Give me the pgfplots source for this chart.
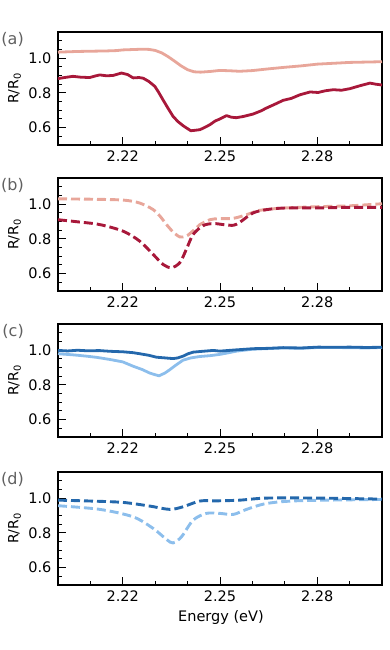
\documentclass[border=0pt]{standalone}
\usepackage{fontspec}
\setmainfont{DejaVu Sans}
\usepackage{pgfplots}
\pgfplotsset{compat=1.18}

\definecolor{dred}{RGB}{168,24,58}
\definecolor{lred}{RGB}{232,166,154}
\definecolor{dblue}{RGB}{36,104,172}
\definecolor{lblue}{RGB}{140,190,236}
\definecolor{lblgray}{RGB}{96,96,96}

\pgfplotsset{
  panel/.style={
    scale only axis, width=324pt, height=113pt,
    xmin=2.20, xmax=2.30, ymin=0.50, ymax=1.15,
    xtick={2.22,2.25,2.28}, ytick={0.6,0.8,1.0},
    minor xtick={2.20,2.21,2.23,2.24,2.26,2.27,2.29,2.30},
    minor ytick={0.5,0.55,0.65,0.7,0.75,0.85,0.9,0.95,1.05,1.1,1.15},
    xticklabels={2.22,2.25,2.28}, yticklabels={0.6,0.8,1.0},
    tick pos=left, tick align=inside,
    major tick length=8pt, minor tick length=4pt,
    every tick/.style={black, line width=0.9pt},
    axis line style={line width=1.6pt},
    tick label style={font=\fontsize{14.5}{16}\selectfont},
    xticklabel style={yshift=-2pt},
    yticklabel style={xshift=-3pt},
    ylabel={R/R\textsubscript{0}},
    every axis y label/.style={at={(axis description cs:-0.134,0.5)},
      rotate=90, anchor=center, font=\fontsize{14}{16}\selectfont},
    clip mode=individual,
  },
}
\tikzset{
  exp/.style={line width=2.8pt, line join=round},
  thy/.style={line width=2.9pt, dash pattern=on 9pt off 4pt, smooth, tension=0.5},
  plabel/.style={font=\fontsize{16}{18}\selectfont, text=lblgray, anchor=east, inner sep=0pt},
}

\begin{document}
\begin{tikzpicture}
\useasboundingbox (0pt,0pt) rectangle (390pt,650pt);

% (a) experiment, red
\begin{axis}[panel, at={(58pt,505pt)}, anchor=south west]
\addplot[exp, lred] coordinates {
(2.2000,1.034)(2.2030,1.036)(2.2060,1.038)(2.2090,1.039)(2.2120,1.040)
(2.2150,1.041)(2.2180,1.043)(2.2201,1.047)(2.2230,1.049)(2.2260,1.051)
(2.2280,1.050)(2.2300,1.044)(2.2320,1.030)(2.2340,1.008)(2.2360,0.982)
(2.2380,0.955)(2.2400,0.933)(2.2420,0.921)(2.2440,0.919)(2.2470,0.923)
(2.2500,0.929)(2.2530,0.927)(2.2560,0.924)(2.2600,0.928)(2.2650,0.938)
(2.2700,0.947)(2.2750,0.955)(2.2800,0.965)(2.2850,0.970)(2.2900,0.975)
(2.2950,0.977)(2.3000,0.979)};
\addplot[exp, dred] coordinates {
(2.2000,0.882)(2.2020,0.888)(2.2046,0.895)(2.2070,0.890)(2.2098,0.888)
(2.2115,0.897)(2.2129,0.903)(2.2150,0.898)(2.2170,0.900)(2.2196,0.914)
(2.2215,0.905)(2.2232,0.886)(2.2250,0.888)(2.2263,0.884)(2.2280,0.866)
(2.2299,0.837)(2.2310,0.805)(2.2324,0.760)(2.2340,0.710)(2.2355,0.665)
(2.2370,0.635)(2.2386,0.611)(2.2400,0.594)(2.2410,0.582)(2.2425,0.585)
(2.2438,0.588)(2.2455,0.603)(2.2469,0.617)(2.2485,0.638)(2.2500,0.650)
(2.2520,0.669)(2.2535,0.660)(2.2550,0.657)(2.2572,0.664)(2.2602,0.678)
(2.2625,0.695)(2.2644,0.713)(2.2670,0.735)(2.2695,0.757)(2.2720,0.768)
(2.2747,0.789)(2.2778,0.805)(2.2803,0.802)(2.2825,0.812)(2.2850,0.818)
(2.2875,0.815)(2.2901,0.824)(2.2932,0.841)(2.2963,0.856)(2.2980,0.850)
(2.3000,0.845)};
\node[plabel] at (axis description cs:-0.105,0.93) {(a)};
\end{axis}

% (b) model, red
\begin{axis}[panel, at={(58pt,359pt)}, anchor=south west]
\addplot[thy, lred] coordinates {
(2.2000,1.030)(2.2100,1.028)(2.2201,1.023)(2.2252,1.006)(2.2294,0.968)
(2.2315,0.930)(2.2335,0.882)(2.2355,0.840)(2.2376,0.811)(2.2395,0.815)
(2.2407,0.830)(2.2425,0.860)(2.2438,0.882)(2.2469,0.910)(2.2496,0.916)
(2.2541,0.918)(2.2582,0.939)(2.2623,0.964)(2.2695,0.977)(2.2803,0.985)
(2.2901,0.990)(2.3000,1.002)};
\addplot[thy, dred] coordinates {
(2.2000,0.910)(2.2060,0.898)(2.2129,0.882)(2.2201,0.844)(2.2252,0.787)
(2.2294,0.710)(2.2324,0.653)(2.2350,0.634)(2.2376,0.663)(2.2396,0.739)
(2.2417,0.825)(2.2448,0.876)(2.2479,0.888)(2.2510,0.882)(2.2541,0.878)
(2.2561,0.895)(2.2602,0.949)(2.2644,0.968)(2.2695,0.977)(2.2803,0.978)
(2.2901,0.981)(2.3000,0.981)};
\node[plabel] at (axis description cs:-0.105,0.93) {(b)};
\end{axis}

% (c) experiment, blue
\begin{axis}[panel, at={(58pt,213pt)}, anchor=south west]
\addplot[exp, lblue] coordinates {
(2.2000,0.979)(2.2050,0.972)(2.2088,0.965)(2.2120,0.958)(2.2160,0.946)
(2.2200,0.932)(2.2232,0.907)(2.2260,0.888)(2.2283,0.868)(2.2300,0.858)
(2.2312,0.852)(2.2330,0.868)(2.2345,0.887)(2.2365,0.915)(2.2386,0.942)
(2.2410,0.955)(2.2438,0.963)(2.2470,0.968)(2.2499,0.975)(2.2525,0.984)
(2.2551,0.994)(2.2602,1.005)(2.2695,1.012)(2.2750,1.010)(2.2803,1.015)
(2.2900,1.014)(2.2950,1.012)(2.3000,1.015)};
\addplot[exp, dblue] coordinates {
(2.2000,0.998)(2.2030,0.995)(2.2060,0.999)(2.2090,0.996)(2.2129,0.997)
(2.2160,0.993)(2.2201,0.990)(2.2232,0.985)(2.2252,0.979)(2.2280,0.970)
(2.2304,0.959)(2.2330,0.955)(2.2355,0.951)(2.2370,0.955)(2.2386,0.965)
(2.2400,0.978)(2.2417,0.988)(2.2440,0.992)(2.2479,0.998)(2.2500,0.994)
(2.2541,1.000)(2.2602,1.008)(2.2650,1.010)(2.2695,1.014)(2.2750,1.012)
(2.2803,1.017)(2.2850,1.016)(2.2901,1.017)(2.2950,1.015)(2.3000,1.016)};
\node[plabel] at (axis description cs:-0.105,0.93) {(c)};
\end{axis}

% (d) model, blue
\begin{axis}[panel, at={(58pt,65pt)}, anchor=south west,
  xlabel={Energy (eV)},
  xlabel style={font=\fontsize{14.5}{16}\selectfont, at={(axis description cs:0.503,-0.29)}, anchor=center}]
\addplot[thy, lblue] coordinates {
(2.2000,0.956)(2.2129,0.935)(2.2232,0.892)(2.2294,0.825)(2.2335,0.762)
(2.2355,0.742)(2.2381,0.777)(2.2417,0.873)(2.2458,0.912)(2.2499,0.912)
(2.2541,0.906)(2.2582,0.935)(2.2644,0.969)(2.2747,0.985)(2.3000,0.992)};
\addplot[thy, dblue] coordinates {
(2.2000,0.988)(2.2100,0.983)(2.2201,0.975)(2.2283,0.954)(2.2345,0.935)
(2.2386,0.950)(2.2438,0.983)(2.2490,0.984)(2.2561,0.988)(2.2644,1.000)
(2.2800,1.000)(2.3000,0.994)};
\node[plabel] at (axis description cs:-0.105,0.93) {(d)};
\end{axis}
\end{tikzpicture}
\end{document}
